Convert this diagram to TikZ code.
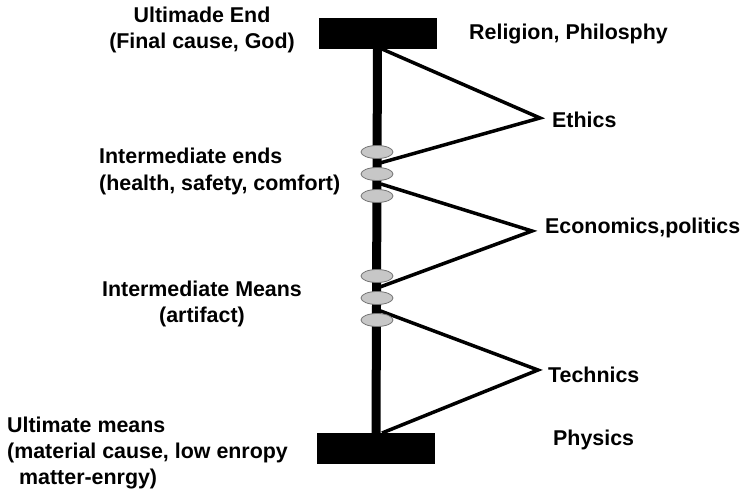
\documentclass[tikz,border=0pt]{standalone}
\usepackage{fontspec}
\setmainfont{Liberation Sans}
\usetikzlibrary{shapes.geometric}
\begin{document}
\begin{tikzpicture}[x=1pt,y=-1pt,
  bar/.style={draw=black,fill=black,minimum width=117pt,minimum height=30pt,inner sep=0pt},
  spine/.style={line width=9pt,black},
  leg/.style={line width=3.5pt,black,line join=miter},
  oval/.style={ellipse,draw=black!55,fill=black!22,line width=0.8pt,minimum width=32pt,minimum height=13pt,inner sep=0pt},
  lbl/.style={font=\fontsize{21.4}{25}\selectfont\bfseries,inner sep=0pt,anchor=base west},
  clbl/.style={font=\fontsize{21.4}{25}\selectfont\bfseries,inner sep=0pt,anchor=base}]
\useasboundingbox (0,0) rectangle (744,492);
% bars and spine
\node[bar] (top) at (377.5,33) {};
\node[bar] (bot) at (376,448) {};
\draw[spine] (top.south) -- (bot.north);
% apex and end coordinates
\coordinate (e0) at (382,49);
\coordinate (ea) at (540,118);
\coordinate (e1) at (380,163);
\coordinate (c0) at (381,184);
\coordinate (ca) at (532,231);
\coordinate (c1) at (380,287);
\coordinate (t0) at (378,310);
\coordinate (ta) at (538,370);
\coordinate (t1) at (382,433);
\draw[leg] (e0) -- (ea) -- (e1);
\draw[leg] (c0) -- (ca) -- (c1);
\draw[leg] (t0) -- (ta) -- (t1);
% ovals
\node[oval] (o1) at (377,152) {};
\node[oval] (o2) at (377,174) {};
\node[oval] (o3) at (377,196) {};
\node[oval] (o4) at (377,276) {};
\node[oval] (o5) at (377,298) {};
\node[oval] (o6) at (377,320) {};
% left labels
\node[clbl] (ue1) at (202,23) {Ultimade End};
\node[clbl] (ue2) at (202,49) {(Final cause, God)};
\node[lbl] (ie1) at (99,163) {Intermediate ends};
\node[lbl] (ie2) at (99,190) {(health, safety, comfort)};
\node[clbl] (im1) at (202,296) {Intermediate Means};
\node[clbl] (im2) at (202,322) {(artifact)};
\node[lbl] (um1) at (7,432) {Ultimate means};
\node[lbl] (um2) at (7,458) {(material cause, low enropy};
\node[lbl] (um3) at (19,484) {matter-enrgy)};
% right labels
\node[lbl] (rel) at (469,40) {Religion, Philosphy};
\node[lbl] (eth) at (552,128) {Ethics};
\node[lbl] (eco) at (545,233) {Economics,politics};
\node[lbl] (tec) at (548,382) {Technics};
\node[lbl] (phy) at (553,445) {Physics};
\end{tikzpicture}
\end{document}
